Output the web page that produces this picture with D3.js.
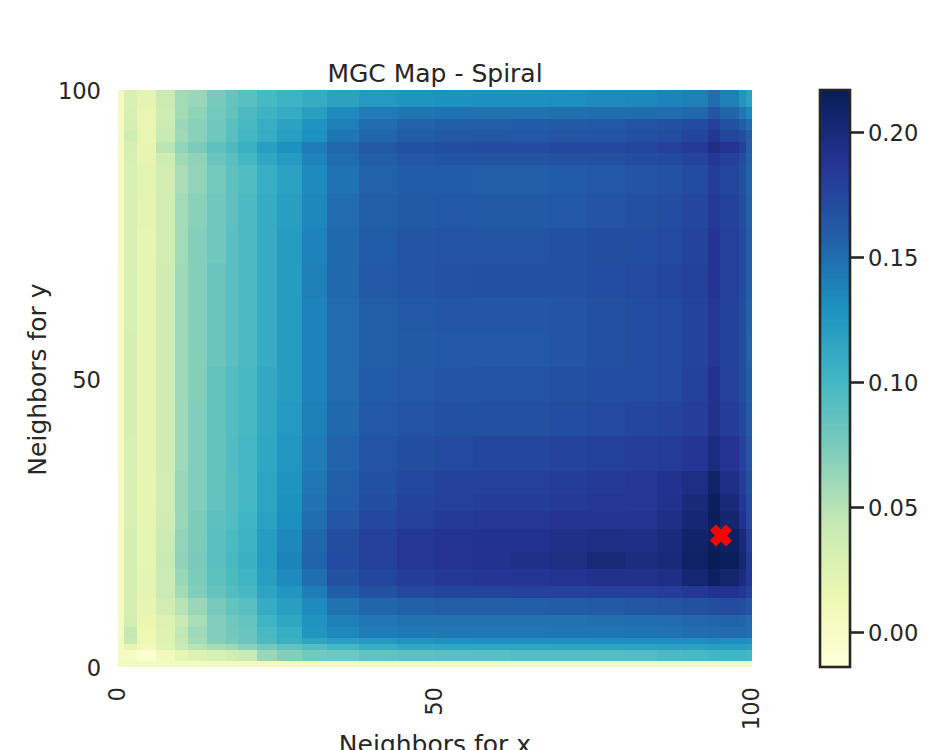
<!DOCTYPE html>
<html>
<head>
<meta charset="utf-8">
<script src="https://cdn.jsdelivr.net/npm/d3@7"></script>
<style>
  body { margin: 0; background: #fff; overflow: hidden; }
  text { font-family: "DejaVu Sans", sans-serif; fill: #262626; }
</style>
</head>
<body>
<div id="chart"></div>
<script>
// Cell edges of the map, in neighbor counts
const xEdges = [0,1,3,6,9,11,14,17,19,22,25,29,33,38,44,50,56,62,68,74,80,85,89,93,95,98,99,100];
const yEdges = [100,97,95,93,91,89,87,82,76,70,64,58,52,46,40,34,30,27,24,20,17,14,12,9,7,5,4,3,1,0];

// MGC values x 1000, top row first
const mapRows = [
  [4,31,22,40,58,62,76,84,90,98,104,110,118,124,128,130,131,131,132,134,136,138,140,152,140,127,118],
  [4,32,18,38,58,66,78,86,96,104,110,120,134,142,146,147,148,148,149,150,151,152,154,165,155,145,135],
  [4,34,18,40,62,68,80,90,98,108,118,128,140,151,157,159,160,161,162,163,166,168,172,180,168,160,150],
  [4,38,19,42,60,68,80,90,100,110,120,130,146,155,160,163,164,163,165,165,168,171,176,186,176,170,160],
  [4,33,20,48,65,75,88,96,106,120,130,142,154,163,168,170,172,172,174,174,176,180,184,195,188,180,160],
  [4,32,20,38,60,66,82,90,100,114,123,138,151,160,164,166,166,166,167,168,171,173,177,186,180,170,158],
  [4,31,23,36,55,65,78,88,94,108,118,134,147,157,161,161,160,160,161,163,165,167,172,182,176,168,156],
  [4,31,22,36,58,68,80,88,96,110,120,136,151,159,162,163,162,162,163,165,168,171,175,184,178,170,158],
  [4,31,21,36,58,70,80,90,96,110,122,138,153,161,165,166,166,166,168,170,171,173,177,188,180,172,160],
  [4,32,21,37,60,70,82,90,96,110,122,140,153,163,165,167,169,168,169,171,173,175,179,188,180,172,160],
  [4,32,21,37,60,70,82,90,96,110,122,138,151,160,163,164,164,164,165,168,171,173,177,186,178,170,158],
  [4,33,20,38,60,70,82,90,96,110,122,138,151,160,162,163,163,163,165,168,171,173,177,186,178,170,156],
  [4,33,20,38,60,70,85,92,98,112,122,138,151,161,163,165,166,166,168,171,171,173,178,190,178,170,160],
  [4,33,20,38,60,72,85,92,98,112,124,140,153,163,166,168,169,169,171,173,175,177,181,192,182,174,162],
  [4,32,20,38,60,72,85,94,100,114,126,142,157,166,170,173,175,175,177,179,181,183,187,198,188,178,165],
  [4,30,20,36,62,72,85,92,100,116,128,146,159,168,174,178,180,180,182,184,186,190,196,208,194,182,168],
  [4,30,20,36,62,72,85,92,100,116,130,148,161,170,177,180,182,182,184,186,186,192,200,214,200,186,170],
  [4,31,20,38,62,74,88,94,102,118,132,150,164,174,180,184,186,186,188,188,189,194,203,216,206,190,172],
  [4,33,21,40,64,74,90,96,104,122,136,155,170,180,186,189,191,191,193,195,194,199,208,216,212,200,180],
  [4,33,21,42,66,76,90,98,106,122,138,156,172,180,186,189,191,193,196,202,197,200,210,217,214,204,185],
  [4,33,22,40,62,74,88,96,103,120,134,150,168,176,182,185,187,187,189,192,192,194,204,212,206,198,186],
  [4,33,22,40,58,72,84,92,98,116,126,142,160,168,174,176,177,178,178,180,180,182,186,190,190,186,178],
  [4,33,20,36,50,62,76,85,90,110,120,134,148,155,158,160,160,160,161,162,164,166,168,170,172,170,165],
  [4,36,16,28,42,56,72,80,84,103,114,128,140,145,148,148,148,148,148,149,150,152,154,155,156,155,152],
  [4,45,14,26,46,60,72,78,83,98,108,126,136,142,144,145,145,145,146,146,147,148,150,152,152,152,150],
  [4,42,14,26,44,58,70,76,82,96,106,115,120,124,127,130,131,131,131,132,132,132,132,134,133,133,130],
  [4,20,8,24,40,50,56,60,68,78,86,92,100,108,112,114,115,115,116,116,116,118,118,120,120,120,118],
  [4,2,-8,8,20,26,30,36,42,62,70,78,80,85,88,90,90,92,92,93,94,96,98,100,102,102,100],
  [5,5,5,5,5,5,5,5,5,5,5,5,5,5,5,5,5,5,5,5,5,5,5,5,5,5,5]
];

// Optimal scale marker
const optimal = [95.1, 22.8];

const axisTicks = [0, 50, 100];
const barTicks = [0, 0.05, 0.1, 0.15, 0.2];
const valueExtent = [-0.014, 0.2168];

// YlGnBu as matplotlib builds it, straight segments between 9 colours
const ylGnBu = ['#ffffd9','#edf8b1','#c7e9b4','#7fcdbb','#41b6c4','#1d91c0','#225ea8','#253494','#081d58'];

const width = 944, height = 750;
const plot = { left: 118, right: 752, top: 90, bottom: 667 };
const bar = { left: 820, right: 850 };

const svg = d3.select('#chart').append('svg')
  .attr('width', width)
  .attr('height', height)
  .style('display', 'block');

const x = d3.scaleLinear().domain([0, 100]).range([plot.left, plot.right]);
const y = d3.scaleLinear().domain([0, 100]).range([plot.bottom, plot.top]);
const barY = d3.scaleLinear().domain(valueExtent).range([plot.bottom, plot.top]);

const color = d3.scaleLinear()
  .domain(ylGnBu.map((c, i) => valueExtent[0] + i / 8 * (valueExtent[1] - valueExtent[0])))
  .range(ylGnBu)
  .clamp(true);

// Flatten rows into cells
const cells = mapRows.flatMap((row, r) => row.map((v, c) => ({
  x0: xEdges[c], x1: xEdges[c + 1],
  y0: yEdges[r + 1], y1: yEdges[r],
  value: v / 1000
})));

svg.append('g')
  .attr('shape-rendering', 'crispEdges')
  .selectAll('rect')
  .data(cells)
  .join('rect')
  .attr('x', d => x(d.x0))
  .attr('y', d => y(d.y1))
  .attr('width', d => x(d.x1) - x(d.x0))
  .attr('height', d => y(d.y0) - y(d.y1))
  .attr('fill', d => color(d.value));

// Red X at the optimal scale
svg.append('path')
  .attr('d', d3.symbol(d3.symbolCross, 250)())
  .attr('transform', `translate(${x(optimal[0])},${y(optimal[1])}) rotate(45)`)
  .attr('fill', 'red')
  .attr('stroke', 'red')
  .attr('stroke-width', 1.5);

// Axes
const xAxis = svg.append('g')
  .attr('transform', `translate(0,${plot.bottom})`)
  .call(d3.axisBottom(x).tickValues(axisTicks).tickSize(0).tickFormat(d3.format('d')));
xAxis.select('.domain').remove();
xAxis.selectAll('text')
  .attr('transform', 'rotate(-90)')
  .attr('x', -20)
  .attr('y', -1)
  .attr('dy', '0.35em')
  .attr('text-anchor', 'end')
  .style('font-family', '"DejaVu Sans", sans-serif')
  .style('font-size', '22.6px')
  .style('fill', '#262626');

const yAxis = svg.append('g')
  .attr('transform', `translate(${plot.left},0)`)
  .call(d3.axisLeft(y).tickValues(axisTicks).tickSize(0).tickFormat(d3.format('d')));
yAxis.select('.domain').remove();
yAxis.selectAll('text')
  .attr('x', -17)
  .attr('y', 1.5)
  .style('font-family', '"DejaVu Sans", sans-serif')
  .style('font-size', '22.6px')
  .style('fill', '#262626');

svg.append('text')
  .attr('x', (plot.left + plot.right) / 2)
  .attr('y', 82)
  .attr('text-anchor', 'middle')
  .style('font-size', '25px')
  .text('MGC Map - Spiral');

svg.append('text')
  .attr('x', (plot.left + plot.right) / 2)
  .attr('y', 753)
  .attr('text-anchor', 'middle')
  .style('font-size', '25px')
  .text('Neighbors for x');

svg.append('text')
  .attr('transform', `translate(46,${(plot.top + plot.bottom) / 2 + 1}) rotate(-90)`)
  .attr('text-anchor', 'middle')
  .style('font-size', '25px')
  .text('Neighbors for y');

// Colorbar
const barSteps = d3.range(0, 256);
svg.append('g')
  .attr('shape-rendering', 'crispEdges')
  .selectAll('rect')
  .data(barSteps)
  .join('rect')
  .attr('x', bar.left)
  .attr('width', bar.right - bar.left)
  .attr('y', d => plot.bottom - (d + 1) / 256 * (plot.bottom - plot.top))
  .attr('height', (plot.bottom - plot.top) / 256 + 0.5)
  .attr('fill', d => color(valueExtent[0] + (d + 0.5) / 256 * (valueExtent[1] - valueExtent[0])));

const barAxis = svg.append('g')
  .attr('transform', `translate(${bar.right},0)`)
  .call(d3.axisRight(barY).tickValues(barTicks).tickSize(14).tickPadding(4).tickFormat(d3.format('.2f')));
barAxis.select('.domain').remove();
barAxis.selectAll('line').attr('stroke', '#262626').attr('stroke-width', 2.6);
barAxis.selectAll('text')
  .attr('y', 1)
  .style('font-family', '"DejaVu Sans", sans-serif')
  .style('font-size', '22.6px')
  .style('fill', '#262626');

svg.append('rect')
  .attr('x', bar.left)
  .attr('y', plot.top)
  .attr('width', bar.right - bar.left)
  .attr('height', plot.bottom - plot.top)
  .attr('fill', 'none')
  .attr('stroke', '#262626')
  .attr('stroke-width', 2.6);
</script>
</body>
</html>
